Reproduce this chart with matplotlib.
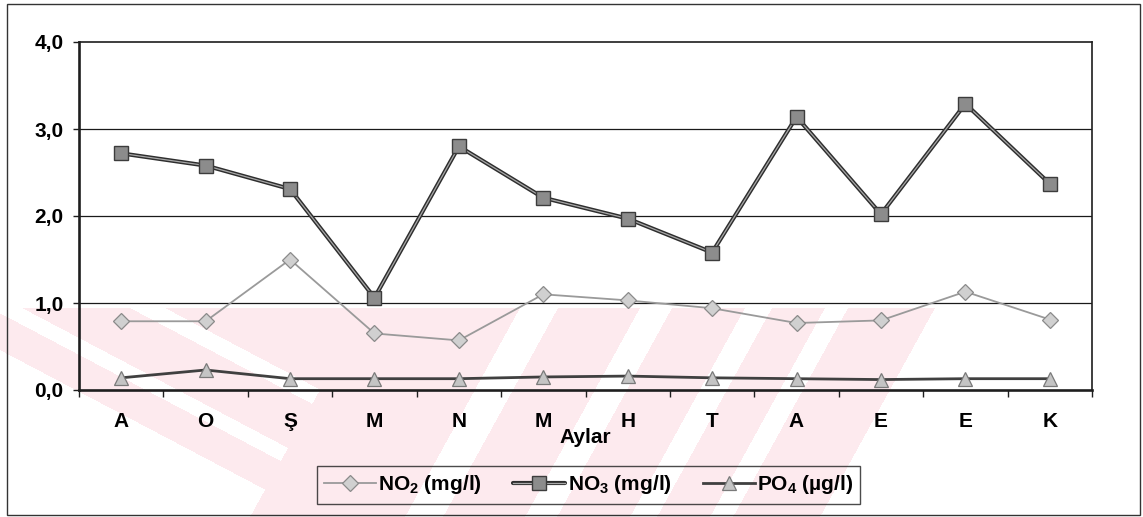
import matplotlib
matplotlib.use("Agg")
import matplotlib.pyplot as plt
from matplotlib.patches import Rectangle
from matplotlib.legend_handler import HandlerTuple
import numpy as np

# ---- data -------------------------------------------------------------
months = ["A", "O", "Ş", "M", "N", "M", "H", "T", "A", "E", "E", "K"]
no2 = [0.79, 0.79, 1.50, 0.65, 0.57, 1.10, 1.03, 0.94, 0.77, 0.80, 1.13, 0.81]
no3 = [2.72, 2.58, 2.31, 1.06, 2.80, 2.21, 1.97, 1.58, 3.14, 2.02, 3.29, 2.37]
po4 = [0.14, 0.23, 0.13, 0.13, 0.13, 0.15, 0.16, 0.14, 0.13, 0.12, 0.13, 0.13]
y_ticks = [0, 1, 2, 3, 4]
y_tick_labels = ["0,0", "1,0", "2,0", "3,0", "4,0"]
x_title = "Aylar"
series_labels = ["NO$_2$ (mg/l)", "NO$_3$ (mg/l)", "PO$_4$ (µg/l)"]

# ---- style ------------------------------------------------------------
plt.rcParams["font.family"] = ["Liberation Sans", "DejaVu Sans"]
plt.rcParams["font.weight"] = "bold"
plt.rcParams["mathtext.default"] = "regular"

W, H, DPI = 1143, 517, 100
FS = 15
fig = plt.figure(figsize=(W / DPI, H / DPI), dpi=DPI, facecolor="white")

# background layer in pixel coordinates (watermark tint + outer frame)
bg = fig.add_axes([0, 0, 1, 1], zorder=0)
bg.set_xlim(0, W)
bg.set_ylim(H, 0)
bg.axis("off")

yy, xx = np.mgrid[0:H, 0:W] + 0.5
t = yy - 308.0
c = xx - 1.9 * t          # "\" direction
b = xx + 0.55 * t         # "/" direction
left_arm = (c >= -80) & (b <= 365)
for lo, hi in [(-10, 22), (130, 165)]:
    left_arm &= ~((c >= lo) & (c <= hi))
right_arm = (b >= 365) & (b <= 935)
for lo, hi in [(520, 558), (640, 672), (745, 772), (825, 848)]:
    right_arm &= ~((b >= lo) & (b <= hi))
mask = (t >= 0) & (left_arm | right_arm)
tint = np.ones((H, W, 4))
tint[..., :3] = np.array([253, 234, 238]) / 255.0
tint[..., 3] = mask.astype(float)
bg.imshow(tint, extent=(0, W, H, 0), interpolation="nearest", zorder=0)

bg.add_patch(Rectangle((7, 4), 1133, 511, fill=False, edgecolor="#333333",
                       linewidth=1.0, zorder=1))

# ---- main axes --------------------------------------------------------
L, R, T, B = 79, 1092, 42, 390
ax = fig.add_axes([L / W, 1 - B / H, (R - L) / W, (B - T) / H], zorder=2)
ax.set_facecolor("none")

x = np.arange(len(months))

ax.set_xlim(-0.5, len(months) - 0.5)
ax.set_ylim(0, 4)

# horizontal gridlines
for v in y_ticks[1:-1]:
    ax.axhline(v, color="#1a1a1a", linewidth=0.9, zorder=1)

# NO2 : thin grey line with light diamonds
l_no2, = ax.plot(x, no2, color="#9a9a9a", linewidth=1.3, marker="D",
                 markersize=8.5, markerfacecolor="#d0d0d0",
                 markeredgecolor="#8a8a8a", markeredgewidth=0.9, zorder=3)

# NO3 : dark outlined line with grey squares
l_no3a, = ax.plot(x, no3, color="#2e2e2e", linewidth=3.0,
                  solid_capstyle="round", zorder=4)
l_no3b, = ax.plot(x, no3, color="#a8a8a8", linewidth=0.9, zorder=5)
l_no3m, = ax.plot(x, no3, linestyle="none", marker="s", markersize=10.5,
                  markerfacecolor="#8c8c8c", markeredgecolor="#3c3c3c",
                  markeredgewidth=1.0, zorder=6)

# PO4 : dark grey line with light triangles
l_po4, = ax.plot(x, po4, color="#404040", linewidth=2.0, marker="^",
                 markersize=10.5, markerfacecolor="#c4c4c4",
                 markeredgecolor="#7a7a7a", markeredgewidth=0.9, zorder=3)

# spines
for side, lw in [("left", 1.9), ("bottom", 1.9), ("top", 1.2), ("right", 1.2)]:
    ax.spines[side].set_linewidth(lw)
    ax.spines[side].set_color("#1e1e1e")

# y axis
ax.set_yticks(y_ticks)
ax.set_yticklabels(y_tick_labels, fontsize=FS, fontweight="bold")
ax.tick_params(axis="y", direction="out", length=4.5, width=1.0, pad=6.5,
               color="#1e1e1e")

# x axis: tick marks between months, labels centred on months
ax.set_xticks(np.arange(len(months) + 1) - 0.5)
ax.set_xticklabels([])
ax.tick_params(axis="x", which="major", direction="out", length=5,
               width=1.0, color="#1e1e1e")
ax.set_xticks(x, minor=True)
ax.set_xticklabels(months, minor=True, fontsize=FS, fontweight="bold")
ax.tick_params(axis="x", which="minor", length=0, pad=16)

ax.set_xlabel(x_title, fontsize=FS, fontweight="bold")
ax.xaxis.label.set_va("baseline")
ax.xaxis.set_label_coords(0.5, -(443 - B) / (B - T))

# legend
leg = ax.legend([l_no2, (l_no3a, l_no3b, l_no3m), l_po4], series_labels,
                handler_map={tuple: HandlerTuple(ndivide=1)},
                loc="center", bbox_to_anchor=(588.5 / W, 1 - 485 / H),
                bbox_transform=fig.transFigure, ncol=3, frameon=True,
                fancybox=False, edgecolor="#1e1e1e", facecolor="none",
                prop={"size": FS, "weight": "bold"}, handlelength=2.5,
                handletextpad=0.1, columnspacing=1.5, borderpad=0.35)
leg.get_frame().set_linewidth(1.0)

fig.savefig("out.png", dpi=DPI, facecolor="white")
